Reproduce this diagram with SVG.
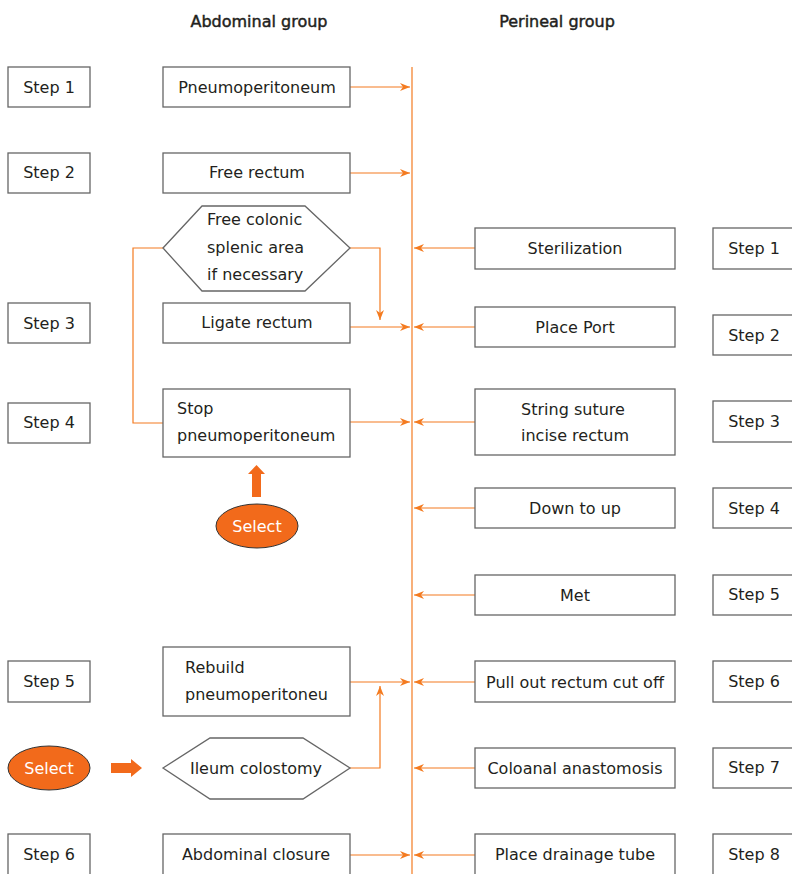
<svg xmlns="http://www.w3.org/2000/svg" width="792" height="874" viewBox="0 0 792 874">
<defs>
<marker id="ah" viewBox="0 0 10 10" refX="10" refY="5" markerWidth="10" markerHeight="10" markerUnits="userSpaceOnUse" orient="auto">
<path d="M0,1 L10,5 L0,9 L3,5 z" fill="#f47b20"/>
</marker>
<style>
.box{fill:#fff;stroke:#666;stroke-width:1.3}
.t{font-family:"DejaVu Sans",Verdana,sans-serif;font-size:16px;fill:#231f20;text-anchor:middle}
.tl{font-family:"DejaVu Sans",Verdana,sans-serif;font-size:16px;fill:#231f20}
.h{font-family:"DejaVu Sans",Verdana,sans-serif;font-size:16px;fill:#231f20;text-anchor:middle;stroke:#231f20;stroke-width:0.45}
.c{fill:none;stroke:#f47b20;stroke-width:1.2}
.a{fill:none;stroke:#f47b20;stroke-width:1.2;marker-end:url(#ah)}
.sel{fill:#f26a1b;stroke:#333;stroke-width:1}
.st{font-family:"DejaVu Sans",Verdana,sans-serif;font-size:16px;fill:#fff;text-anchor:middle}
</style>
</defs>
<rect width="792" height="874" fill="#fff"/>
<text class="h" x="259" y="27">Abdominal group</text>
<text class="h" x="557" y="27">Perineal group</text>

<g id="connectors">
<line class="c" x1="412" y1="67" x2="412" y2="874"/>
<line class="a" x1="350" y1="87" x2="410" y2="87"/>
<line class="a" x1="350" y1="173" x2="410" y2="173"/>
<polyline class="a" points="350,248 380,248 380,320"/>
<line class="a" x1="350" y1="327" x2="410" y2="327"/>
<polyline class="c" points="163,248 133,248 133,423 163,423"/>
<line class="a" x1="350" y1="422" x2="410" y2="422"/>
<line class="a" x1="350" y1="682" x2="410" y2="682"/>
<polyline class="a" points="350,768 380,768 380,686"/>
<line class="a" x1="350" y1="855" x2="410" y2="855"/>
<line class="a" x1="475" y1="248" x2="414" y2="248"/>
<line class="a" x1="475" y1="327" x2="414" y2="327"/>
<line class="a" x1="475" y1="422" x2="414" y2="422"/>
<line class="a" x1="475" y1="508" x2="414" y2="508"/>
<line class="a" x1="475" y1="595" x2="414" y2="595"/>
<line class="a" x1="475" y1="682" x2="414" y2="682"/>
<line class="a" x1="475" y1="768" x2="414" y2="768"/>
<line class="a" x1="475" y1="855" x2="414" y2="855"/>
<polygon points="252,497 261,497 261,474 265,474 256.5,465 248,474 252,474" fill="#f26a1b"/>
<polygon points="111,763 131,763 131,759 142,768 131,777 131,773 111,773" fill="#f26a1b"/>
</g>

<g id="lstep1"><rect class="box" x="8" y="67" width="82" height="40"/><text class="t" x="49" y="93">Step 1</text></g>
<g id="lstep2"><rect class="box" x="8" y="153" width="82" height="40"/><text class="t" x="49" y="178">Step 2</text></g>
<g id="lstep3"><rect class="box" x="8" y="303" width="82" height="40"/><text class="t" x="49" y="329">Step 3</text></g>
<g id="lstep4"><rect class="box" x="8" y="403" width="82" height="40"/><text class="t" x="49" y="428">Step 4</text></g>
<g id="lstep5"><rect class="box" x="8" y="661" width="82" height="41"/><text class="t" x="49" y="687">Step 5</text></g>
<g id="lstep6"><rect class="box" x="8" y="834" width="82" height="42"/><text class="t" x="49" y="860">Step 6</text></g>

<g id="pneumo"><rect class="box" x="163" y="67" width="187" height="40"/><text class="t" x="257" y="93">Pneumoperitoneum</text></g>
<g id="freerectum"><rect class="box" x="163" y="153" width="187" height="40"/><text class="t" x="257" y="178">Free rectum</text></g>
<g id="freecolonic"><polygon class="box" points="163,248 202,206 305,206 350,248 305,291 202,291"/>
<text class="tl" x="207" y="225">Free colonic</text><text class="tl" x="207" y="253">splenic area</text><text class="tl" x="207" y="280">if necessary</text></g>
<g id="ligate"><rect class="box" x="163" y="303" width="187" height="40"/><text class="t" x="257" y="328">Ligate rectum</text></g>
<g id="stop"><rect class="box" x="163" y="389" width="187" height="68"/><text class="tl" x="177" y="414">Stop</text><text class="tl" x="177" y="441">pneumoperitoneum</text></g>
<g id="select1"><ellipse class="sel" cx="257" cy="526" rx="41" ry="22"/><text class="st" x="257" y="532">Select</text></g>
<g id="rebuild"><rect class="box" x="163" y="647" width="187" height="69"/><text class="tl" x="185" y="673">Rebuild</text><text class="tl" x="185" y="700">pneumoperitoneu</text></g>
<g id="select2"><ellipse class="sel" cx="49" cy="768" rx="41" ry="22"/><text class="st" x="49" y="774">Select</text></g>
<g id="ileum"><polygon class="box" points="163,768 210,738 303,738 350,768 303,799 210,799"/><text class="t" x="256" y="774">Ileum colostomy</text></g>
<g id="closure"><rect class="box" x="163" y="834" width="187" height="42"/><text class="t" x="256" y="860">Abdominal closure</text></g>

<g id="steril"><rect class="box" x="475" y="228" width="200" height="41"/><text class="t" x="575" y="254">Sterilization</text></g>
<g id="port"><rect class="box" x="475" y="307" width="200" height="40"/><text class="t" x="575" y="333">Place Port</text></g>
<g id="string"><rect class="box" x="475" y="389" width="200" height="66"/><text class="t" x="573" y="415">String suture</text><text class="t" x="575" y="441">incise rectum</text></g>
<g id="down"><rect class="box" x="475" y="488" width="200" height="40"/><text class="t" x="575" y="514">Down to up</text></g>
<g id="met"><rect class="box" x="475" y="575" width="200" height="40"/><text class="t" x="575" y="601">Met</text></g>
<g id="pull"><rect class="box" x="475" y="661" width="200" height="41"/><text class="t" x="575" y="688">Pull out rectum cut off</text></g>
<g id="colo"><rect class="box" x="475" y="748" width="200" height="40"/><text class="t" x="575" y="774">Coloanal anastomosis</text></g>
<g id="drain"><rect class="box" x="475" y="834" width="200" height="42"/><text class="t" x="575" y="860">Place drainage tube</text></g>

<g id="rstep1"><rect class="box" x="713" y="228" width="82" height="41"/><text class="t" x="754" y="254">Step 1</text></g>
<g id="rstep2"><rect class="box" x="713" y="315" width="82" height="40"/><text class="t" x="754" y="341">Step 2</text></g>
<g id="rstep3"><rect class="box" x="713" y="401" width="82" height="41"/><text class="t" x="754" y="427">Step 3</text></g>
<g id="rstep4"><rect class="box" x="713" y="488" width="82" height="40"/><text class="t" x="754" y="514">Step 4</text></g>
<g id="rstep5"><rect class="box" x="713" y="575" width="82" height="40"/><text class="t" x="754" y="600">Step 5</text></g>
<g id="rstep6"><rect class="box" x="713" y="661" width="82" height="41"/><text class="t" x="754" y="687">Step 6</text></g>
<g id="rstep7"><rect class="box" x="713" y="748" width="82" height="40"/><text class="t" x="754" y="773">Step 7</text></g>
<g id="rstep8"><rect class="box" x="713" y="834" width="82" height="42"/><text class="t" x="754" y="860">Step 8</text></g>
</svg>
